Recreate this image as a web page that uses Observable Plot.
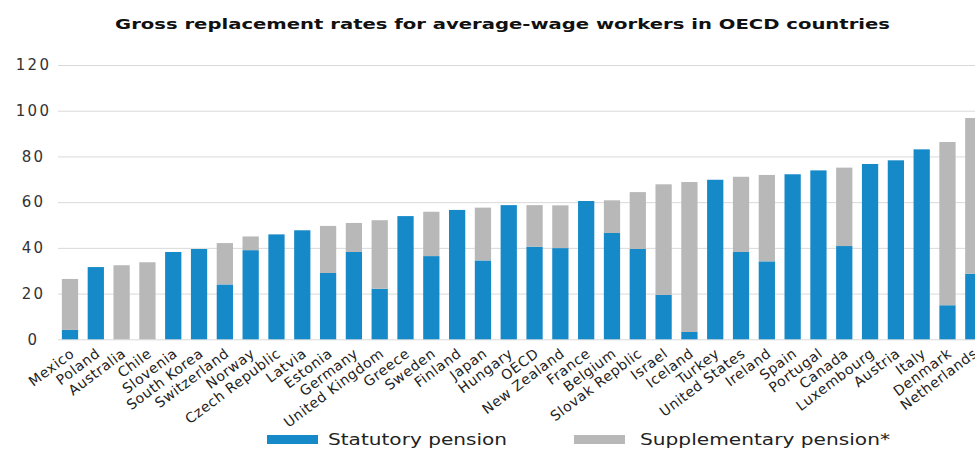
<!DOCTYPE html>
<html>
<head>
<meta charset="utf-8">
<script src="https://cdn.jsdelivr.net/npm/d3@7"></script>
<script src="https://cdn.jsdelivr.net/npm/@observablehq/plot@0.6"></script>
<style>
  html, body { margin: 0; padding: 0; background: #fff; }
  body { width: 975px; height: 449px; overflow: hidden; position: relative; font-family: "DejaVu Sans", Verdana, sans-serif; }
  #title { position: absolute; top: 17px; left: 0; width: 1005px; text-align: center; font-size: 14.5px; line-height: 1; font-weight: bold; color: #111; white-space: nowrap; }
  #title span { display: inline-block; transform-origin: 50% 50%; }
  #chart { position: absolute; top: 40px; left: 0; width: 975px; }
  #chart svg { max-width: none; }
  #chart g[aria-label="x-axis tick label"] text { letter-spacing: 0.6px; }
  #chart g[aria-label="y-axis tick label"] text { letter-spacing: 2.3px; }
  #legend { position: absolute; left: 0; top: 0; }
  .sw { position: absolute; height: 9px; }
  .lt { position: absolute; font-size: 15px; line-height: 1; color: #222; white-space: nowrap; transform-origin: 0 50%; }
</style>
</head>
<body>
<div id="title"><span>Gross replacement rates for average-wage workers in OECD countries</span></div>
<div id="chart"></div>
<div id="legend"></div>
<script>
const countries = ["Mexico","Poland","Australia","Chile","Slovenia","South Korea","Switzerland","Norway","Czech Republic","Latvia","Estonia","Germany","United Kingdom","Greece","Sweden","Finland","Japan","Hungary","OECD","New Zealand","France","Belgium","Slovak Repblic","Israel","Iceland","Turkey","United States","Ireland","Spain","Portugal","Canada","Luxembourg","Austria","Italy","Denmark","Netherlands"];
const statutory = [4.1,31.6,0,0,38.2,39.5,24,39,45.9,47.7,29,38.2,22.1,53.9,36.4,56.6,34.5,58.7,40.5,39.9,60.5,46.5,39.5,19.4,3.2,69.8,38.2,34.1,72.2,73.9,40.8,76.7,78.3,83.1,14.9,28.7];
const supplementary = [22.3,0,32.4,33.7,0,0,18.1,6,0,0,20.6,12.7,30,0,19.4,0,23.1,0,18.2,18.7,0,14.3,24.9,48.4,65.6,0,32.9,37.8,0,0,34.3,0,0,0,71.4,68.1];
const seriesNames = ["Statutory pension","Supplementary pension*"];
const seriesColors = ["#168ac8","#b8b8b8"];
const yTicks = [0,20,40,60,80,100,120];

const rows = countries.flatMap((c, i) => [
  {country: c, type: seriesNames[0], value: statutory[i]},
  {country: c, type: seriesNames[1], value: supplementary[i]}
]);

const chart = Plot.plot({
  width: 975,
  height: 409,
  marginTop: 25,
  marginBottom: 109.7,
  marginLeft: 58,
  marginRight: -10.3,
  style: {fontFamily: "DejaVu Sans, Verdana, sans-serif", background: "white"},
  x: {domain: countries, paddingInner: 0.37, paddingOuter: 0.15, round: false, label: null},
  y: {domain: [0, 120], label: null},
  color: {domain: seriesNames, range: seriesColors},
  marks: [
    Plot.gridY(yTicks, {stroke: "#d9d9d9", strokeOpacity: 1}),
    Plot.barY(rows, {x: "country", y: "value", fill: "type"}),
    Plot.axisY(yTicks, {tickSize: 0, tickPadding: 26, dx: 1, textAnchor: "middle", fontSize: 15, fill: "#333", label: null}),
    Plot.axisX({tickRotate: -37, tickSize: 0, tickPadding: 12, dx: 2, fontSize: 14, fill: "#222", label: null})
  ]
});
document.getElementById("chart").appendChild(chart);

// legend
const legend = document.getElementById("legend");
const legendLayout = [
  {swatchX: 267, textX: 328, target: 179},
  {swatchX: 574, textX: 640, target: 250}
];
seriesNames.forEach((name, i) => {
  const sw = document.createElement("div");
  sw.className = "sw";
  sw.style.left = legendLayout[i].swatchX + "px";
  sw.style.top = "434.5px";
  sw.style.width = "51px";
  sw.style.background = seriesColors[i];
  legend.appendChild(sw);
  const t = document.createElement("div");
  t.className = "lt";
  t.textContent = name;
  t.style.left = legendLayout[i].textX + "px";
  t.style.top = "432.5px";
  legend.appendChild(t);
  const w = t.getBoundingClientRect().width;
  t.style.transform = "scaleX(" + (legendLayout[i].target / w) + ")";
});

// title width fit (stretched like the reference)
const ts = document.querySelector("#title span");
const tw = ts.getBoundingClientRect().width;
ts.style.transform = "scaleX(" + (775 / tw) + ")";
</script>
</body>
</html>
